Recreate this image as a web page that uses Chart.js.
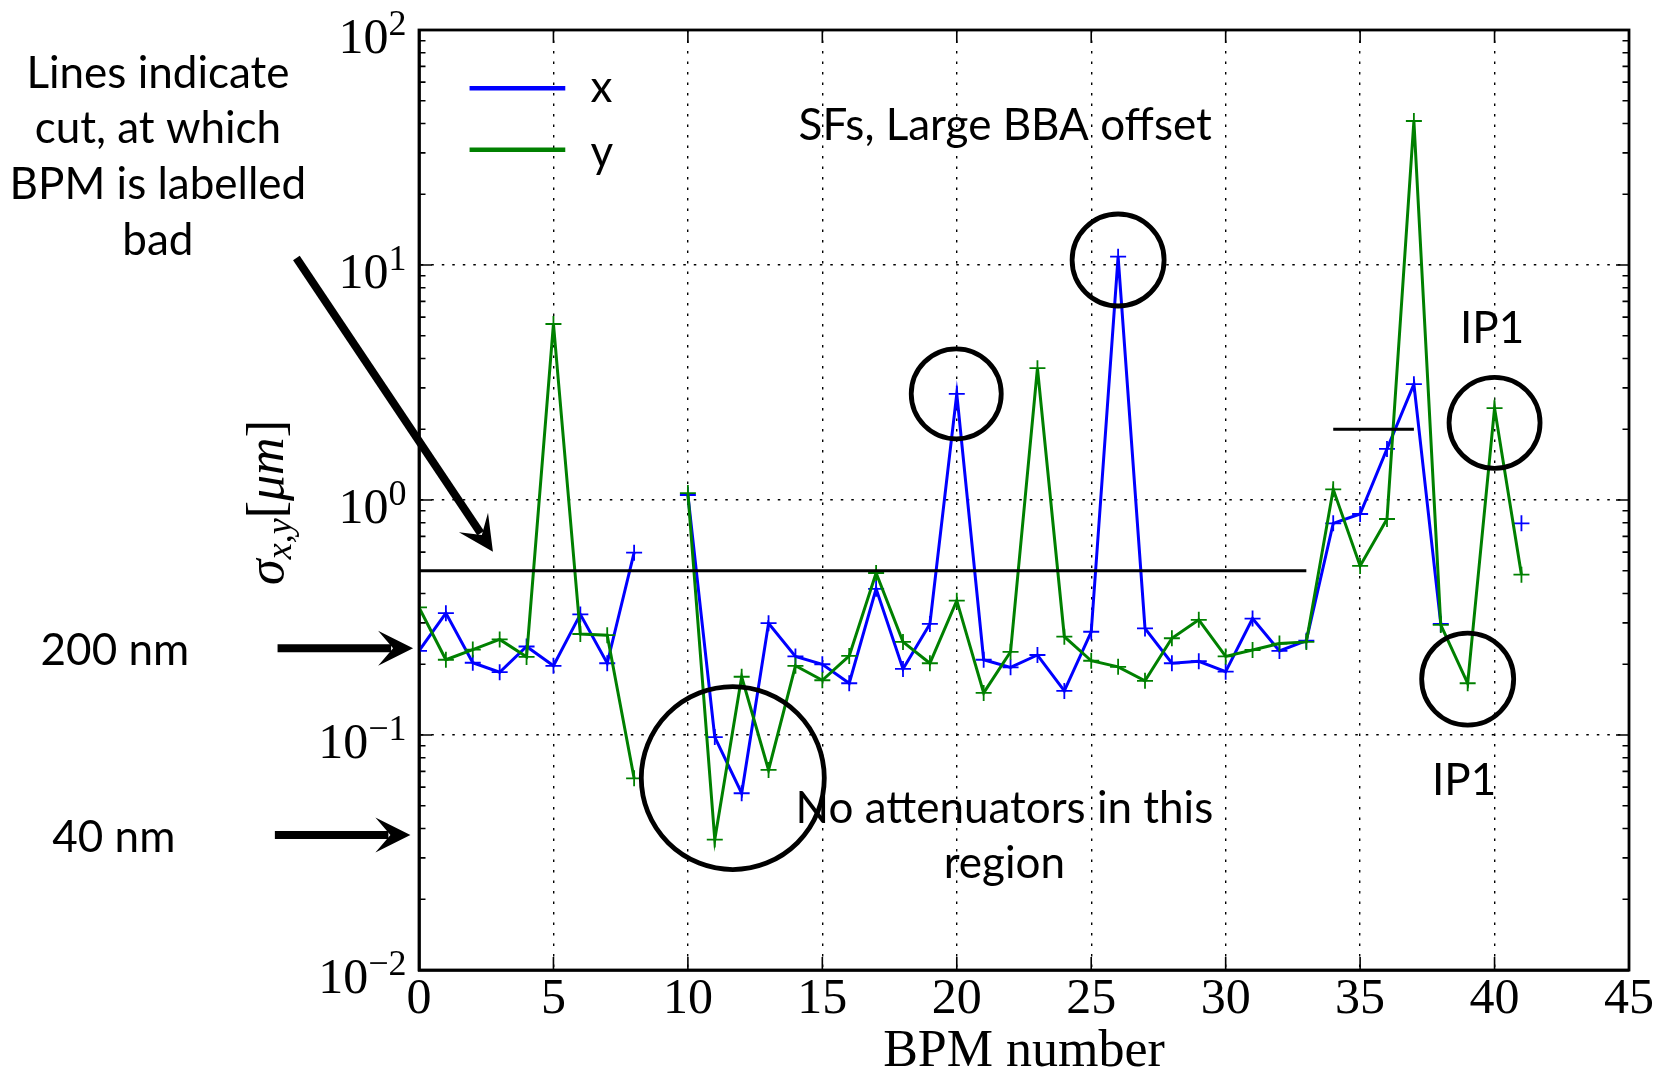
<!DOCTYPE html>
<html>
<head>
<meta charset="utf-8">
<script src="https://cdn.jsdelivr.net/npm/chart.js@4.4.0/dist/chart.umd.min.js"></script>
<style>
  html, body { margin: 0; padding: 0; background: #fff; }
</style>
</head>
<body>
<canvas id="chart" width="1654" height="1071"></canvas>
<script>
// BPM index along the line
var bpm = [0, 1, 2, 3, 4, 5, 6, 7, 8, 9,
           10, 11, 12, 13, 14, 15, 16, 17, 18, 19,
           20, 21, 22, 23, 24, 25, 26, 27, 28, 29,
           30, 31, 32, 33, 34, 35, 36, 37, 38, 39,
           40, 41];

// resolution in um, null = no reading
var sigmaX = [0.228, 0.33, 0.203, 0.185, 0.238, 0.197, 0.326, 0.202, 0.597, null,
              1.05, 0.098, 0.0565, 0.299, 0.216, 0.200, 0.166, 0.419, 0.191, 0.297,
              2.83, 0.209, 0.194, 0.219, 0.154, 0.275, 10.85, 0.284, 0.202, 0.206,
              0.186, 0.313, 0.228, 0.252, 0.796, 0.872, 1.65, 3.11, 0.297, null,
              null, 0.796];
var sigmaY = [0.349, 0.209, 0.231, 0.255, 0.215, 5.61, 0.269, 0.266, 0.0654, null,
              1.07, 0.0359, 0.177, 0.071, 0.197, 0.171, 0.217, 0.489, 0.249, 0.202,
              0.373, 0.151, 0.226, 3.64, 0.262, 0.207, 0.195, 0.170, 0.258, 0.309,
              0.216, 0.230, 0.245, 0.249, 1.11, 0.524, 0.83, 41.0, 0.294, 0.166,
              2.46, 0.481];

// cut levels above which a BPM is labelled bad
var cutBpm = [0, 33];
var cutLevel = 0.5;
var cutIpBpm = [34, 37];
var cutIpLevel = 2.0;

// axis ticks
var xTicks = [0, 5, 10, 15, 20, 25, 30, 35, 40, 45];
var yDecades = [-2, -1, 0, 1, 2];

// annotations, placed in data coordinates (x = BPM, y = sigma)
var notes = [
    { text: 'Lines indicate', x: -9.71, y: 56.6 },
    { text: 'cut, at which', x: -9.71, y: 32.9 },
    { text: 'BPM is labelled', x: -9.71, y: 19.1 },
    { text: 'bad', x: -9.71, y: 11.08 },
    { text: 'SFs, Large BBA offset', x: 21.8, y: 34.0 },
    { text: 'IP1', x: 39.91, y: 4.64 },
    { text: 'IP1', x: 38.87, y: 0.0555 },
    { text: 'No attenuators in this', x: 21.77, y: 0.0421 },
    { text: 'region', x: 21.77, y: 0.0246 },
    { text: '200 nm', x: -11.31, y: 0.1985 },
    { text: '40 nm', x: -11.35, y: 0.0319 }
];
var circles = [
    { x: 19.98, y: 2.83, r: 45 },
    { x: 26.0, y: 10.5, r: 46 },
    { x: 40.0, y: 2.13, r: 45.5 },
    { x: 39.0, y: 0.173, r: 46 },
    { x: 11.67, y: 0.0656, r: 91.5 }
];
var arrows = [
    { x1: -4.56, y1: 10.7, x2: 2.75, y2: 0.603 },
    { x1: -5.26, y1: 0.234, x2: -0.22, y2: 0.234 },
    { x1: -5.36, y1: 0.0375, x2: -0.32, y2: 0.0375 }
];
var legendItems = [
    { label: 'x', color: '#0000ff', y: 56.5, textY: 49.5 },
    { label: 'y', color: '#008000', y: 30.9, textY: 26.2 }
];

var SERIF = '"Liberation Serif", "DejaVu Serif", serif';
var SANS = 'Lato, "Open Sans", sans-serif';

function xy(xs, ys) {
    return xs.map(function (x, i) { return { x: x, y: ys[i] }; });
}

function drawArrow(ctx, x1, y1, x2, y2) {
    var ang = Math.atan2(y2 - y1, x2 - x1);
    var headLen = 35, headHalf = 17.5, notch = 20;
    ctx.lineWidth = 8;
    ctx.beginPath();
    ctx.moveTo(x1, y1);
    ctx.lineTo(x2 - Math.cos(ang) * (notch + 2), y2 - Math.sin(ang) * (notch + 2));
    ctx.stroke();
    ctx.save();
    ctx.translate(x2, y2);
    ctx.rotate(ang);
    ctx.beginPath();
    ctx.moveTo(0, 0);
    ctx.lineTo(-headLen, -headHalf);
    ctx.lineTo(-notch, 0);
    ctx.lineTo(-headLen, headHalf);
    ctx.closePath();
    ctx.fill();
    ctx.restore();
}

var decor = {
    id: 'decor',
    afterDraw: function (chart) {
        var ctx = chart.ctx;
        var a = chart.chartArea;
        var xs = chart.scales.x, ys = chart.scales.y;
        ctx.save();
        ctx.strokeStyle = '#000';
        ctx.fillStyle = '#000';

        // frame
        ctx.lineWidth = 2.8;
        ctx.strokeRect(a.left, a.top, a.right - a.left, a.bottom - a.top);

        // inward ticks on all four sides
        ctx.lineWidth = 1.6;
        ctx.beginPath();
        xTicks.forEach(function (v) {
            var p = xs.getPixelForValue(v);
            ctx.moveTo(p, a.bottom); ctx.lineTo(p, a.bottom - 13);
            ctx.moveTo(p, a.top); ctx.lineTo(p, a.top + 13);
        });
        yDecades.forEach(function (e) {
            var p = ys.getPixelForValue(Math.pow(10, e));
            ctx.moveTo(a.left, p); ctx.lineTo(a.left + 13, p);
            ctx.moveTo(a.right, p); ctx.lineTo(a.right - 13, p);
            if (e < 2) {
                for (var m = 2; m <= 9; m++) {
                    var q = ys.getPixelForValue(m * Math.pow(10, e));
                    ctx.moveTo(a.left, q); ctx.lineTo(a.left + 6.5, q);
                    ctx.moveTo(a.right, q); ctx.lineTo(a.right - 6.5, q);
                }
            }
        });
        ctx.stroke();

        // y tick labels 10^n
        ctx.textAlign = 'left';
        ctx.textBaseline = 'alphabetic';
        yDecades.forEach(function (e) {
            var p = ys.getPixelForValue(Math.pow(10, e));
            var ex = (e < 0 ? '\u2212' : '') + Math.abs(e);
            ctx.font = '36px ' + SERIF;
            var w2 = ctx.measureText(ex).width;
            ctx.font = '50px ' + SERIF;
            var w1 = ctx.measureText('10').width;
            var right = a.left - 12.5;
            ctx.fillText('10', right - w2 - w1, p + 23);
            ctx.font = '36px ' + SERIF;
            ctx.fillText(ex, right - w2, p + 5);
        });

        // x axis title
        ctx.textAlign = 'center';
        ctx.font = '52px ' + SERIF;
        ctx.fillText('BPM number', (a.left + a.right) / 2, 1066);

        // y axis title
        ctx.save();
        ctx.translate(283, 502.5);
        ctx.rotate(-Math.PI / 2);
        var parts = [
            { t: '\u03c3', f: 'italic 52px ' + SERIF, dy: 0 },
            { t: 'x,y', f: 'italic 36px ' + SERIF, dy: 8 },
            { t: '[', f: '52px ' + SERIF, dy: 0 },
            { t: '\u03bcm', f: 'italic 52px ' + SERIF, dy: 0 },
            { t: ']', f: '52px ' + SERIF, dy: 0 }
        ];
        var total = 0;
        parts.forEach(function (pt) { ctx.font = pt.f; pt.w = ctx.measureText(pt.t).width; total += pt.w; });
        var cx = -total / 2;
        ctx.textAlign = 'left';
        parts.forEach(function (pt) { ctx.font = pt.f; ctx.fillText(pt.t, cx, pt.dy); cx += pt.w; });
        ctx.restore();

        // legend
        ctx.font = '44px ' + SANS;
        ctx.textAlign = 'left';
        legendItems.forEach(function (it) {
            var yy = ys.getPixelForValue(it.y);
            ctx.strokeStyle = it.color;
            ctx.lineWidth = 4.5;
            ctx.beginPath();
            ctx.moveTo(xs.getPixelForValue(1.88), yy);
            ctx.lineTo(xs.getPixelForValue(5.44), yy);
            ctx.stroke();
            ctx.fillStyle = '#000';
            ctx.fillText(it.label, xs.getPixelForValue(6.38), ys.getPixelForValue(it.textY));
        });

        // text notes
        ctx.fillStyle = '#000';
        ctx.textAlign = 'center';
        notes.forEach(function (n) {
            ctx.fillText(n.text, xs.getPixelForValue(n.x), ys.getPixelForValue(n.y));
        });

        // circles
        ctx.strokeStyle = '#000';
        ctx.lineWidth = 4.8;
        circles.forEach(function (c) {
            ctx.beginPath();
            ctx.arc(xs.getPixelForValue(c.x), ys.getPixelForValue(c.y), c.r, 0, Math.PI * 2);
            ctx.stroke();
        });

        // arrows
        arrows.forEach(function (ar) {
            drawArrow(ctx, xs.getPixelForValue(ar.x1), ys.getPixelForValue(ar.y1),
                      xs.getPixelForValue(ar.x2), ys.getPixelForValue(ar.y2));
        });
        ctx.restore();
    }
};

function lineSet(label, data, color, order) {
    return {
        label: label,
        data: data,
        borderColor: color,
        backgroundColor: color,
        borderWidth: 3,
        pointStyle: 'cross',
        pointRadius: 8,
        pointBorderWidth: 1.8,
        pointBorderColor: color,
        pointHoverRadius: 8,
        fill: false,
        tension: 0,
        spanGaps: false,
        order: order
    };
}

function buildChart() {
    var ctx = document.getElementById('chart').getContext('2d');
    new Chart(ctx, {
        type: 'line',
        data: {
            datasets: [
                lineSet('x', xy(bpm, sigmaX), '#0000ff', 2),
                lineSet('y', xy(bpm, sigmaY), '#008000', 1),
                {
                    label: 'cut', data: xy(cutBpm, [cutLevel, cutLevel]),
                    borderColor: '#000', borderWidth: 2.8, pointRadius: 0, order: 0
                },
                {
                    label: 'cut IP', data: xy(cutIpBpm, [cutIpLevel, cutIpLevel]),
                    borderColor: '#000', borderWidth: 2.8, pointRadius: 0, order: 0
                }
            ]
        },
        options: {
            responsive: false,
            animation: false,
            devicePixelRatio: 1,
            layout: { padding: { left: 0, right: 24, top: 30, bottom: 0 } },
            plugins: {
                legend: { display: false },
                tooltip: { enabled: false }
            },
            scales: {
                x: {
                    type: 'linear',
                    min: 0,
                    max: 45,
                    afterBuildTicks: function (scale) {
                        scale.ticks = xTicks.map(function (v) { return { value: v }; });
                    },
                    afterFit: function (scale) { scale.height = 101; },
                    ticks: {
                        maxRotation: 0,
                        autoSkip: false,
                        padding: 0,
                        color: '#000',
                        font: { family: SERIF, size: 50 }
                    },
                    grid: { color: '#000', lineWidth: 1.4, drawTicks: false },
                    border: { display: true, color: '#000', width: 2.8, dash: [2.5, 8] }
                },
                y: {
                    type: 'logarithmic',
                    min: 0.01,
                    max: 100,
                    afterBuildTicks: function (scale) {
                        scale.ticks = yDecades.map(function (e) { return { value: Math.pow(10, e) }; });
                    },
                    afterFit: function (scale) { scale.width = 419; },
                    ticks: { display: false },
                    grid: { color: '#000', lineWidth: 1.4, drawTicks: false },
                    border: { display: true, color: '#000', width: 2.8, dash: [2.5, 8] }
                }
            }
        },
        plugins: [decor]
    });
}

var fontLoads = [
    document.fonts.load('44px Lato'),
    document.fonts.load('50px "Liberation Serif"'),
    document.fonts.load('italic 50px "Liberation Serif"')
];
Promise.all(fontLoads).then(buildChart, buildChart);
</script>
</body>
</html>
